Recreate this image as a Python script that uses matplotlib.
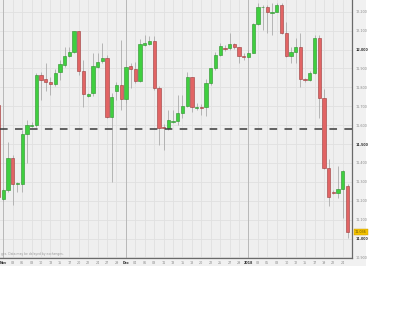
import matplotlib
matplotlib.use('Agg')
import matplotlib.pyplot as plt
from matplotlib.patches import Rectangle
import numpy as np

# daily candles, Oct 31 2017 .. Jan 25 2018 (index -1 .. 73)
opens = [11706, 11207, 11257, 11428, 11288, 11288, 11553, 11598, 11600, 11865,
         11842, 11826, 11817, 11883, 11918, 11966, 11988, 12098, 11886, 11756,
         11768, 11909, 11939, 11957, 11641, 11782, 11812, 11738, 11913, 11897,
         11835, 12024, 12028, 12045, 11795, 11592, 11583, 11618, 11623, 11662,
         11701, 11856, 11692, 11694, 11694, 11824, 11901, 11971, 12010, 12006,
         12028, 12015, 11966, 11962, 11983, 12133, 12223, 12223, 12195, 12200,
         12235, 12086, 11966, 11988, 12012, 11842, 11839, 11874, 12062, 11742,
         11375, 11248, 11239, 11260, 11278]
highs = [11720, 11267, 11512, 11442, 11299, 11574, 11627, 11616, 11876, 11883,
         11927, 11855, 11895, 11944, 12015, 12013, 12100, 12100, 11944, 11770,
         11981, 11981, 12033, 11971, 11770, 11830, 12050, 11944, 11927, 11935,
         12054, 12077, 12071, 12071, 11807, 11606, 11680, 11680, 11759, 11759,
         11883, 11856, 11717, 11712, 11845, 11901, 11988, 12033, 12024, 12086,
         12036, 12015, 11981, 11997, 12140, 12244, 12235, 12235, 12244, 12246,
         12246, 12146, 12015, 12059, 12086, 11848, 11888, 12077, 12077, 11789,
         11419, 11257, 11384, 11362, 11288]
lows = [11200, 11198, 11246, 11177, 11248, 11248, 11398, 11590, 11590, 11733,
        11782, 11759, 11807, 11839, 11907, 11960, 11981, 11865, 11697, 11749,
        11754, 11902, 11927, 11638, 11301, 11733, 11680, 11717, 11796, 11823,
        11828, 12018, 12024, 11786, 11495, 11468, 11574, 11611, 11600, 11638,
        11696, 11671, 11680, 11653, 11648, 11812, 11892, 11966, 11992, 11997,
        12003, 11927, 11944, 11955, 11979, 12130, 12103, 12087, 12077, 12198,
        12082, 11960, 11927, 11929, 11803, 11830, 11833, 11870, 11638, 11368,
        11172, 11235, 11213, 11107, 11001]
closes = [11221, 11257, 11428, 11288, 11290, 11553, 11600, 11602, 11865, 11839,
          11830, 11816, 11877, 11922, 11966, 11988, 12098, 11886, 11763, 11763,
          11913, 11935, 11957, 11641, 11750, 11812, 11738, 11909, 11897, 11835,
          12028, 12033, 12045, 11795, 11583, 11583, 11627, 11623, 11662, 11701,
          11856, 11694, 11695, 11693, 11824, 11901, 11971, 12020, 12003, 12028,
          12015, 11966, 11962, 11983, 12133, 12226, 12224, 12197, 12198, 12235,
          12086, 11966, 11988, 12012, 11842, 11839, 11874, 12062, 11745, 11375,
          11221, 11239, 11260, 11357, 11036]

date_labels = ['Nov', '03', '06', '08', '10', '13', '15', '17', '20', '22', '24',
               '27', '29', 'Dec', '04', '06', '08', '11', '13', '15', '18', '20',
               '22', '25', '27', '29', '2018', '03', '05', '08', '10', '12', '15',
               '17', '19', '22', '24']
month_labels = ['Nov', 'Dec', '2018']

price_ticks = list(range(10900, 12201, 100))
major_prices = [11000, 11500, 12000]
ref_level = 11579
last_price = 11036

o = np.array(opens)
h = np.array(highs)
l = np.array(lows)
c = np.array(closes)
idx = np.arange(len(o)) - 1

fig = plt.figure(figsize=(4, 3.1), dpi=100)
fig.patch.set_facecolor('white')
fig.patches.append(Rectangle((0, 44 / 310), 366 / 400, 266 / 310,
                             transform=fig.transFigure, facecolor='#f1f1f1',
                             edgecolor='none', zorder=-5))
ax = fig.add_axes([0, 52 / 310, 352 / 400, 258 / 310])
ax.set_zorder(2)
ax.set_facecolor('#efefef')

# grid
for p in price_ticks:
    ax.axhline(p, color='#e0e0e0', lw=0.6, zorder=1)
tick_pos = np.arange(0, 2 * len(date_labels), 2)
for x, lab in zip(tick_pos, date_labels):
    col = '#b8b8b8' if lab in month_labels else '#e0e0e0'
    ax.axvline(x, color=col, lw=0.7 if lab in month_labels else 0.6, zorder=1)

# candles
up = c >= o
body_bot = np.minimum(o, c)
body_h = np.maximum(np.abs(c - o), 4)
ax.vlines(idx, l, h, color='#ababab', lw=0.6, zorder=2)
ax.bar(idx[up], body_h[up], bottom=body_bot[up], width=0.7,
       color='#3fcf3f', edgecolor='#2b8f2b', lw=0.4, zorder=3)
ax.bar(idx[~up], body_h[~up], bottom=body_bot[~up], width=0.7,
       color='#e26464', edgecolor='#9a3a3a', lw=0.4, zorder=3)

ax.axhline(ref_level, color='#3a3a3a', lw=1.1, dashes=(5, 4.8), zorder=4)

ax.set_xlim(-0.7, 73.95)
ax.set_ylim(10897, 12262)

ax.yaxis.tick_right()
ax.set_yticks(price_ticks)
ax.set_yticklabels([f'{p // 1000}.{p % 1000:03d}' for p in price_ticks])
ax.tick_params(axis='y', length=0, pad=2.5, labelsize=2.4, colors='#8a8a8a')
for t, p in zip(ax.get_yticklabels(), price_ticks):
    if p in major_prices:
        t.set_color('#333333')
        t.set_fontweight('bold')

ax.set_xticks(tick_pos)
ax.set_xticklabels(date_labels)
ax.tick_params(axis='x', length=0, pad=2, labelsize=2.4, colors='#8a8a8a')
for t in ax.get_xticklabels():
    if t.get_text() in month_labels:
        t.set_color('#333333')
        t.set_fontweight('bold')

for s in ['top', 'left']:
    ax.spines[s].set_visible(False)
ax.spines['right'].set_color('#6a6a6a')
ax.spines['bottom'].set_color('#6a6a6a')
ax.spines['right'].set_linewidth(0.9)
ax.spines['bottom'].set_linewidth(0.9)

ax.text(1.008, last_price, f'{last_price // 1000}.{last_price % 1000:03d}',
        transform=ax.get_yaxis_transform(), fontsize=2.4, color='#6a5200',
        va='center', ha='left',
        bbox=dict(boxstyle='square,pad=0.35', fc='#f2c200', ec='#c99a00', lw=0.3))

ax.text(0.002, 0.006, 'ges. Data may be delayed by exchanges.',
        transform=ax.transAxes, fontsize=2.2, color='#9a9a9a', va='bottom')

fig.savefig('out.png', dpi=100)
